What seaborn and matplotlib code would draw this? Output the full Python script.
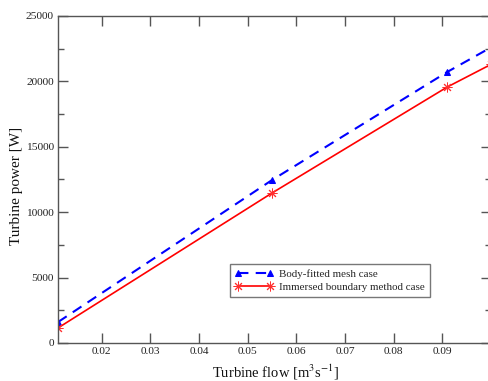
import matplotlib
matplotlib.use("Agg")
import matplotlib.pyplot as plt
import seaborn as sns
import pandas as pd
from matplotlib.ticker import MultipleLocator

flow = [0.011, 0.055, 0.091, 0.100]
power_body_fitted = [1600, 12460, 20720, 22600]
power_immersed = [1150, 11470, 19570, 21300]
labels = ["Body-fitted mesh case", "Immersed boundary method case"]
x_ticks = [0.02, 0.03, 0.04, 0.05, 0.06, 0.07, 0.08, 0.09]
y_ticks = [0, 5000, 10000, 15000, 20000, 25000]

sns.set_theme(style="ticks")
plt.rcParams['font.family'] = ['Liberation Serif', 'DejaVu Serif']
plt.rcParams['mathtext.fontset'] = 'stix'

fig = plt.figure(figsize=(4.89, 3.81), dpi=100)
ax = fig.add_axes([58/489, 1-343/381, (491-58)/489, (343-16)/381])

df1 = pd.DataFrame({"flow": flow, "power": power_body_fitted})
df2 = pd.DataFrame({"flow": flow, "power": power_immersed})

sns.lineplot(data=df1, x="flow", y="power", ax=ax, color="#0000ff", lw=1.5,
             linestyle=(0, (5, 3.5)), marker="^", markersize=4.5,
             markeredgecolor="#0000ff", label=labels[0])
sns.lineplot(data=df2, x="flow", y="power", ax=ax, color="#ff0000", lw=1.2,
             marker=(8, 2, 0), markersize=7, markeredgewidth=0.7,
             markeredgecolor="#ff3030", label=labels[1])

ax.set_xlim(0.011, 0.1)
ax.set_ylim(0, 25000)
ax.set_xticks(x_ticks)
ax.set_xticklabels([f"{v:.2f}" for v in x_ticks])
ax.set_yticks(y_ticks)
ax.set_yticklabels([str(v) for v in y_ticks])
ax.yaxis.set_minor_locator(MultipleLocator(2500))

for s in ax.spines.values():
    s.set_visible(True)
    s.set_color("#555555")
    s.set_linewidth(1.0)

ax.tick_params(axis="both", which="both", direction="in", top=True, right=True,
               color="#555555", labelsize=8.2, labelcolor="#222222", pad=3)
ax.tick_params(which="major", length=7, width=1.0)
ax.tick_params(which="minor", length=4, width=1.0)

ax.set_xlabel(r"Turbine flow [m$^3$s$^{-1}$]", fontsize=10.5, color="#111111")
ax.set_ylabel("Turbine power [W]", fontsize=11, color="#111111")
ax.xaxis.set_label_coords(0.502, -0.06)
ax.yaxis.set_label_coords(-0.08, 0.48)

leg = ax.legend(loc="upper left", bbox_to_anchor=((230-58)/433, (343-264)/327),
                fontsize=7.9, frameon=True, fancybox=False, numpoints=2,
                handlelength=3.5, borderpad=0.45, labelspacing=0.3,
                handletextpad=0.5, borderaxespad=0)
leg.get_frame().set_edgecolor("#555555")
leg.get_frame().set_linewidth(1.0)

fig.savefig("out.png", dpi=100)
